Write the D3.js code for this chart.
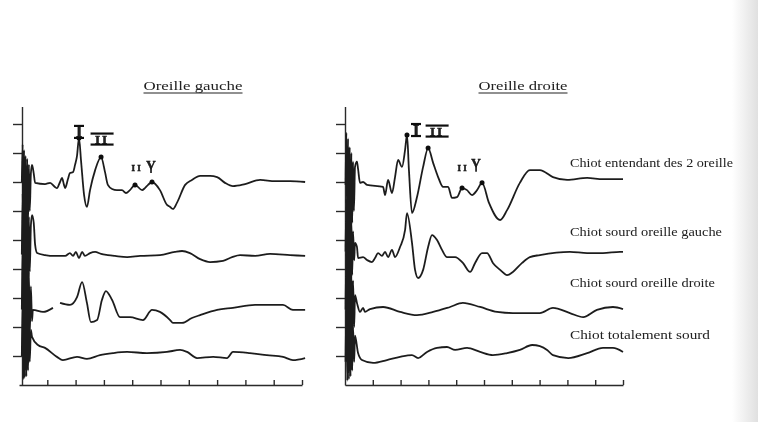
<!DOCTYPE html>
<html>
<head>
<meta charset="utf-8">
<script src="https://cdn.jsdelivr.net/npm/d3@7/dist/d3.min.js"></script>
<style>
  body { margin: 0; background: #fff; }
  svg { display: block; }
  .trace { fill: none; stroke: #1f1f1f; stroke-width: 1.8; stroke-linejoin: round; }
  .axis path, .axis line { stroke: #2a2a2a; stroke-width: 1.4; }
  text { font-family: "Liberation Serif", "DejaVu Serif", serif; fill: #202020; }
</style>
</head>
<body>
<svg id="chart" width="758" height="422"></svg>
<script>
// time axis (ms) and amplitude grid (divisions)
const ticksX = [1, 2, 3, 4, 5, 6, 7, 8, 9, 10]
const ticksY = [1, 2, 3, 4, 5, 6, 7, 8, 9]

const titles = ["Oreille gauche", "Oreille droite"]
const seriesNames = [
  "Chiot entendant des 2 oreille",
  "Chiot sourd oreille gauche",
  "Chiot sourd oreille droite",
  "Chiot totalement sourd"
]

// left ear: [time ms, amplitude div]
const leftHearing = [[0.10,7.0],[0.13,8.3],[0.15,5.4],[0.18,8.1],[0.20,5.2],[0.23,7.9],[0.26,5.3],[0.29,7.8],[0.32,5.6],[0.35,7.6],[0.38,6.0],[0.42,7.3],[0.46,7.59],[0.52,7.3],[0.57,6.97],[0.92,6.93],[1.10,6.97],[1.27,6.83],[1.34,6.79],[1.45,7.0],[1.52,7.14],[1.59,6.90],[1.63,6.79],[1.73,7.1],[1.80,7.31],[1.91,7.34],[1.98,7.59],[2.05,7.9],[2.12,8.52],[2.19,7.76],[2.30,6.55],[2.40,6.14],[2.51,6.72],[2.69,7.41],[2.90,7.86],[3.04,7.34],[3.14,6.90],[3.29,6.76],[3.46,6.72],[3.64,6.72],[3.78,6.62],[3.92,6.72],[4.10,6.90],[4.35,6.72],[4.45,6.79],[4.56,6.90],[4.70,7.0],[4.98,6.72],[5.23,6.21],[5.34,6.14],[5.44,6.07],[5.58,6.28],[5.87,6.90],[6.11,7.07],[6.40,7.21],[6.75,7.21],[7.00,7.17],[7.28,6.97],[7.56,6.86],[7.99,6.93],[8.52,7.07],[9.05,7.03],[9.58,7.03],[10.11,7.0]]
const leftDeafLeft = [[0.10,4.5],[0.13,6.6],[0.15,3.2],[0.18,6.4],[0.20,3.0],[0.23,6.2],[0.26,3.2],[0.29,6.0],[0.32,3.5],[0.35,5.8],[0.38,3.9],[0.42,5.5],[0.46,5.86],[0.52,5.6],[0.57,4.83],[0.64,4.55],[0.92,4.48],[1.27,4.45],[1.63,4.45],[1.80,4.55],[1.91,4.45],[2.01,4.59],[2.12,4.38],[2.23,4.59],[2.33,4.45],[2.51,4.55],[2.69,4.59],[2.90,4.52],[3.14,4.48],[3.39,4.45],[3.82,4.41],[4.28,4.45],[4.98,4.48],[5.51,4.59],[5.76,4.62],[6.04,4.55],[6.40,4.34],[6.75,4.24],[7.21,4.28],[7.53,4.41],[7.81,4.48],[8.34,4.45],[8.87,4.52],[9.58,4.48],[10.11,4.45]]
const leftDeafRight = [[0.10,2.6],[0.13,4.9],[0.15,1.0],[0.18,4.7],[0.20,0.8],[0.23,4.5],[0.26,1.0],[0.29,4.2],[0.32,1.3],[0.35,3.9],[0.38,1.7],[0.42,3.4],[0.46,2.2],[0.49,2.59],[0.85,2.52],[1.20,2.66],[1.27,null],[1.45,2.83],[1.80,2.76],[2.05,3.03],[2.23,3.55],[2.40,2.83],[2.54,2.17],[2.76,2.24],[2.93,2.93],[3.07,3.24],[3.29,2.93],[3.57,2.34],[3.92,2.34],[4.38,2.24],[4.70,2.59],[4.98,2.52],[5.34,2.24],[5.44,2.14],[5.76,2.14],[6.11,2.31],[6.40,2.41],[7.00,2.59],[7.56,2.66],[8.34,2.76],[9.33,2.76],[9.68,2.59],[10.11,2.59]]
const leftDeafBoth = [[0.10,1.0],[0.13,3.0],[0.15,0.2],[0.18,2.8],[0.20,0.25],[0.23,2.6],[0.26,0.3],[0.29,2.4],[0.32,0.5],[0.35,2.2],[0.38,0.8],[0.42,1.9],[0.46,1.66],[0.67,1.38],[0.92,1.28],[1.34,0.97],[1.55,0.86],[2.05,0.97],[2.40,0.90],[2.86,1.03],[3.32,1.10],[3.82,1.14],[4.52,1.10],[5.23,1.14],[5.69,1.21],[5.94,1.14],[6.29,0.93],[6.86,0.97],[7.35,0.93],[7.56,1.14],[8.16,1.10],[8.76,1.03],[9.33,0.97],[9.68,0.86],[10.11,0.93]]

// right ear
const rightHearing = [[0.02,6.9],[0.05,8.7],[0.08,5.4],[0.11,8.5],[0.14,5.2],[0.17,8.2],[0.20,5.3],[0.23,8.0],[0.26,5.6],[0.29,7.7],[0.32,6.0],[0.36,7.52],[0.43,7.7],[0.47,7.45],[0.54,6.97],[0.65,7.0],[0.79,6.90],[1.37,6.83],[1.44,6.55],[1.55,7.07],[1.69,6.62],[1.80,7.17],[1.91,7.76],[2.05,7.52],[2.16,8.10],[2.23,8.62],[2.30,7.41],[2.41,5.93],[2.59,6.48],[2.81,7.52],[2.99,8.17],[3.17,7.66],[3.35,7.17],[3.53,6.83],[3.71,6.83],[3.85,6.45],[4.03,6.48],[4.21,6.79],[4.39,6.72],[4.57,6.55],[4.75,6.72],[4.93,6.97],[5.18,6.28],[5.58,5.69],[5.83,6.03],[6.29,6.97],[6.65,7.41],[7.01,7.41],[7.48,7.17],[7.99,7.07],[8.71,7.14],[9.28,7.10],[10.0,7.10]]
const rightDeafLeft = [[0.02,4.6],[0.05,6.4],[0.08,3.3],[0.11,6.2],[0.14,3.2],[0.17,6.0],[0.20,3.4],[0.23,5.7],[0.26,3.8],[0.29,5.3],[0.33,4.3],[0.36,4.90],[0.43,4.76],[0.47,4.38],[0.65,4.41],[0.79,4.31],[0.97,4.24],[1.08,4.38],[1.19,4.55],[1.33,4.45],[1.44,4.59],[1.55,4.41],[1.69,4.66],[1.80,4.41],[1.98,4.76],[2.16,5.34],[2.23,5.93],[2.41,4.90],[2.52,3.97],[2.63,3.69],[2.81,3.97],[2.99,4.76],[3.13,5.17],[3.31,5.0],[3.49,4.66],[3.67,4.41],[3.96,4.41],[4.24,4.21],[4.50,3.90],[4.68,4.21],[4.93,4.55],[5.11,4.55],[5.32,4.21],[5.58,3.97],[5.83,3.79],[6.04,3.90],[6.37,4.21],[6.65,4.41],[7.01,4.48],[8.09,4.59],[8.71,4.55],[9.28,4.55],[9.89,4.59],[10.0,4.59]]
const rightDeafRight = [[0.02,2.6],[0.05,4.6],[0.08,1.2],[0.11,4.4],[0.14,1.0],[0.17,4.2],[0.20,1.2],[0.23,3.9],[0.26,1.5],[0.29,3.6],[0.33,2.0],[0.36,3.1],[0.43,2.83],[0.54,2.52],[0.65,2.66],[0.72,2.52],[0.90,2.62],[1.37,2.69],[1.98,2.52],[2.59,2.41],[3.17,2.52],[3.78,2.69],[4.24,2.83],[4.86,2.69],[5.47,2.52],[6.04,2.48],[6.55,2.48],[7.01,2.48],[7.48,2.66],[8.09,2.48],[8.57,2.34],[9.06,2.59],[9.64,2.69],[10.0,2.62]]
const rightDeafBoth = [[0.02,0.8],[0.05,2.8],[0.08,0.15],[0.11,2.6],[0.14,0.2],[0.17,2.4],[0.20,0.3],[0.23,2.2],[0.26,0.5],[0.29,2.0],[0.33,0.8],[0.36,1.7],[0.47,1.10],[0.61,0.86],[1.01,0.76],[1.51,0.86],[1.98,0.97],[2.41,1.03],[2.63,0.93],[2.95,1.14],[3.31,1.28],[3.67,1.31],[3.96,1.21],[4.39,1.28],[4.86,1.14],[5.32,1.03],[5.83,1.10],[6.29,1.21],[6.73,1.38],[7.01,1.34],[7.27,1.21],[7.48,1.03],[8.03,0.93],[8.71,1.10],[9.28,1.28],[9.64,1.28],[10.0,1.14]]

// marked waves on the hearing trace
const waveNames = ["I", "II", "I I", "V"]
const leftWaveT = [2.12, 2.90, 4.10, 4.70]
const leftWaveV = [8.52, 7.86, 6.90, 7.0]
const rightWaveT = [2.23, 2.99, 4.21, 4.93]
const rightWaveV = [8.62, 8.17, 6.79, 6.97]

const svg = d3.select("#chart")
const defs = svg.append("defs")

defs.append("filter")
    .attr("id", "soft")
    .append("feGaussianBlur")
    .attr("stdDeviation", 0.45)

const edge = defs.append("linearGradient").attr("id", "edge").attr("x1", 0).attr("x2", 1)
edge.append("stop").attr("offset", 0).attr("stop-color", "#ffffff")
edge.append("stop").attr("offset", 1).attr("stop-color", "#e0e0e0")

svg.append("rect")
   .attr("x", 732).attr("y", 0)
   .attr("width", 26).attr("height", 422)
   .attr("fill", "url(#edge)")

const root = svg.append("g").attr("filter", "url(#soft)")

const yScale = d3.scaleLinear().domain([0, 9.6]).range([385, 106.6])

const panels = [
  { title: titles[0], traces: [leftHearing, leftDeafLeft, leftDeafRight, leftDeafBoth],
    waveT: leftWaveT, waveV: leftWaveV, range: [19, 302], axisX: 22, titleX: 193, titleW: 99,
    labelOff: [[0, -6], [1, -18], [1, -17], [-1, -18]] },
  { title: titles[1], traces: [rightHearing, rightDeafLeft, rightDeafRight, rightDeafBoth],
    waveT: rightWaveT, waveV: rightWaveV, range: [345, 623], axisX: 345, titleX: 523, titleW: 89,
    labelOff: [[9, -5], [9, -17], [0, -20], [-6, -20]] }
]

const labelStyle = {
  "I":   { size: 16, bar: 10, half: 6 },
  "II":  { size: 13, bar: 23, half: 5.5 },
  "I I": { size: 9,  bar: 0,  half: 0 },
  "V":   { size: 13, bar: 0,  half: 0 }
}

panels.forEach(p => {
  const xScale = d3.scaleLinear().domain([0, 10]).range(p.range)

  const g = root.append("g")

  g.append("g")
   .attr("class", "axis")
   .attr("transform", `translate(${p.axisX},0)`)
   .call(d3.axisLeft(yScale).tickValues(ticksY).tickSizeInner(9).tickSizeOuter(0).tickFormat(""))

  g.append("g")
   .attr("class", "axis")
   .attr("transform", `translate(0,${yScale(0)})`)
   .call(d3.axisBottom(xScale).tickValues(ticksX).tickSizeInner(-5).tickSizeOuter(0).tickFormat(""))

  const line = d3.line()
                 .defined(d => d[1] != null)
                 .x(d => xScale(d[0]))
                 .y(d => yScale(d[1]))
                 .curve(d3.curveMonotoneX)

  g.selectAll(".trace")
   .data(p.traces)
   .join("path")
   .attr("class", "trace")
   .attr("d", line)

  // wave markers
  waveNames.forEach((name, i) => {
    const px = xScale(p.waveT[i])
    const py = yScale(p.waveV[i])
    const st = labelStyle[name]
    const cx = px + p.labelOff[i][0]
    const cy = py + p.labelOff[i][1]

    g.append("circle")
     .attr("cx", px).attr("cy", py).attr("r", 2.5)
     .attr("fill", "#111")

    if (name === "V") {
      g.append("line")
       .attr("x1", cx).attr("x2", cx)
       .attr("y1", cy + 3).attr("y2", cy + 9)
       .attr("stroke", "#111").attr("stroke-width", 1.6)
    }

    g.append("text")
     .attr("x", cx).attr("y", cy)
     .attr("text-anchor", "middle")
     .attr("dominant-baseline", "central")
     .attr("font-size", st.size)
     .attr("font-weight", "bold")
     .attr("letter-spacing", name === "II" ? 2 : 0)
     .attr("stroke", "#111").attr("stroke-width", 0.5)
     .text(name)

    if (st.bar) {
      [-st.half, st.half].forEach(off => {
        g.append("line")
         .attr("x1", cx - st.bar / 2).attr("x2", cx + st.bar / 2)
         .attr("y1", cy + off).attr("y2", cy + off)
         .attr("stroke", "#111").attr("stroke-width", 2.2)
      })
    }
  })

  // title, underlined
  g.append("text")
   .attr("x", p.titleX - p.titleW / 2).attr("y", 90)
   .attr("font-size", 13)
   .attr("textLength", p.titleW)
   .attr("lengthAdjust", "spacingAndGlyphs")
   .text(p.title)

  g.append("line")
   .attr("x1", p.titleX - p.titleW / 2).attr("x2", p.titleX + p.titleW / 2)
   .attr("y1", 93).attr("y2", 93)
   .attr("stroke", "#202020").attr("stroke-width", 1.1)
})

// series names at the right of the right panel
const nameY = [167, 236, 287, 339]
const nameW = [163, 152, 145, 140]

root.selectAll(".name")
    .data(seriesNames)
    .join("text")
    .attr("class", "name")
    .attr("x", 570)
    .attr("y", (d, i) => nameY[i])
    .attr("font-size", 12.5)
    .attr("textLength", (d, i) => nameW[i])
    .attr("lengthAdjust", "spacingAndGlyphs")
    .text(d => d)
</script>
</body>
</html>
